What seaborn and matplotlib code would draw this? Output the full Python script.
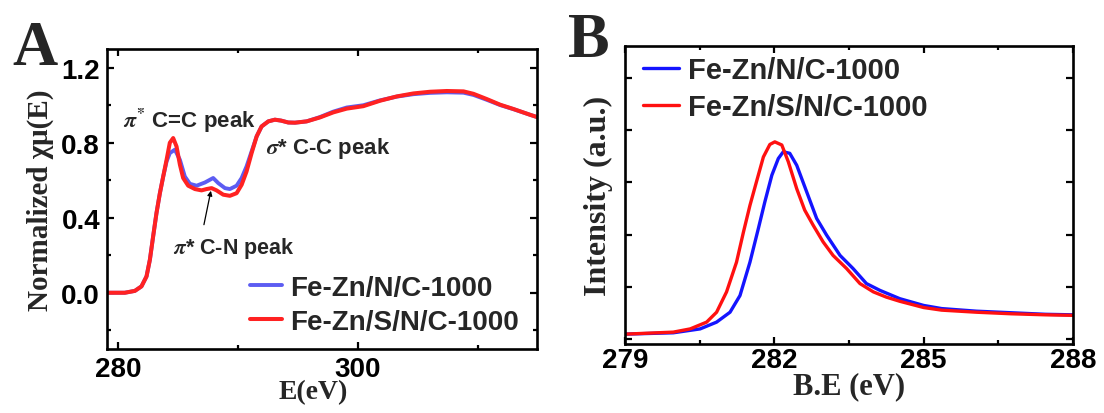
import numpy as np
import pandas as pd
import matplotlib
matplotlib.use("Agg")
import matplotlib.pyplot as plt
import seaborn as sns
from matplotlib.ticker import NullFormatter, FixedLocator

# ---------------- data: panel A (XANES) ----------------
energy_sn = [279.1, 280.58, 281.42, 281.97, 282.39, 282.67, 282.94, 283.22, 283.5, 283.78,
             284.06, 284.33, 284.61, 284.89, 285.17, 285.44, 285.86, 286.42, 286.97, 287.39,
             287.81, 288.22, 288.78, 289.33, 289.89, 290.31, 290.72, 291.14, 291.56, 291.97,
             292.53, 293.08, 293.6, 294.19, 294.75, 295.72, 296.83, 297.94, 299.06, 300.44,
             301.83, 303.22, 304.61, 306.0, 307.39, 308.78, 309.61, 310.72, 311.83, 312.94,
             314.33, 314.9]
mu_fezn_sn = [0.0, 0.0, 0.01, 0.034, 0.087, 0.176, 0.30, 0.425, 0.53, 0.62,
              0.709, 0.80, 0.825, 0.78, 0.683, 0.612, 0.571, 0.553, 0.546, 0.553,
              0.558, 0.546, 0.523, 0.517, 0.531, 0.576, 0.647, 0.745, 0.834, 0.887,
              0.914, 0.923, 0.918, 0.908, 0.907, 0.914, 0.935, 0.962, 0.982, 0.995,
              1.024, 1.047, 1.063, 1.072, 1.076, 1.074, 1.061, 1.033, 1.003, 0.98,
              0.949, 0.937]

energy_n = [279.1, 280.58, 281.42, 281.97, 282.39, 282.67, 282.94, 283.22, 283.5, 283.78,
            284.06, 284.33, 284.75, 285.17, 285.58, 286.0, 286.56, 287.25, 287.94, 288.36,
            288.92, 289.33, 289.89, 290.31, 290.72, 291.14, 291.56, 291.97,
            292.53, 293.08, 293.6, 294.19, 294.75, 295.72, 296.83, 297.94, 299.06, 300.44,
            301.83, 303.22, 304.61, 306.0, 307.39, 308.78, 309.61, 310.72, 311.83, 312.94,
            314.33, 314.9]
mu_fezn_n = [0.0, 0.0, 0.01, 0.034, 0.087, 0.176, 0.30, 0.425, 0.53, 0.62,
             0.70, 0.745, 0.763, 0.709, 0.62, 0.581, 0.571, 0.588, 0.612, 0.585,
             0.558, 0.553, 0.571, 0.612, 0.674, 0.754, 0.834, 0.887,
             0.914, 0.923, 0.918, 0.908, 0.907, 0.914, 0.937, 0.966, 0.988, 1.0,
             1.026, 1.046, 1.059, 1.066, 1.069, 1.067, 1.055, 1.029, 1.001, 0.979,
             0.949, 0.937]

# ---------------- data: panel B (XPS) ----------------
be_n = [279.02, 279.97, 280.51, 280.84, 281.11, 281.31, 281.51, 281.68, 281.81, 281.95,
        282.08, 282.18, 282.31, 282.45, 282.65, 282.85, 283.05, 283.32, 283.58, 283.85,
        284.12, 284.52, 285.0, 285.36, 286.06, 286.76, 287.45, 288.0]
int_n = [0.09, 0.115, 0.19, 0.32, 0.51, 0.83, 1.47, 2.12, 2.63, 3.14,
         3.46, 3.59, 3.56, 3.33, 2.82, 2.31, 1.99, 1.60, 1.35, 1.06,
         0.93, 0.77, 0.64, 0.58, 0.53, 0.50, 0.47, 0.46]
be_sn = [279.02, 279.97, 280.31, 280.64, 280.84, 281.04, 281.24, 281.38, 281.51, 281.64,
         281.78, 281.91, 282.01, 282.15, 282.28, 282.45, 282.61, 282.78, 282.98, 283.18,
         283.45, 283.72, 283.99, 284.25, 284.52, 285.0, 285.36, 286.06, 286.76, 287.45,
         288.0]
int_sn = [0.09, 0.128, 0.19, 0.32, 0.51, 0.90, 1.47, 2.05, 2.56, 3.01,
          3.49, 3.73, 3.78, 3.72, 3.40, 2.88, 2.47, 2.18, 1.86, 1.60,
          1.35, 1.06, 0.90, 0.80, 0.72, 0.60, 0.55, 0.51, 0.48, 0.46,
          0.45]

labels = ["Fe-Zn/N/C-1000", "Fe-Zn/S/N/C-1000"]
colors_a = ["#5c5cf2", "#ff2222"]
colors_b = ["#1414ff", "#ff1010"]

xticks_a = [280, 300]
yticks_a = [0.0, 0.4, 0.8, 1.2]
xticks_b = [279, 282, 285, 288]

# ---------------- style ----------------
sns.set_theme(style="ticks")
plt.rcParams["font.family"] = ["Liberation Sans", "DejaVu Sans"]
plt.rcParams["font.weight"] = "bold"
plt.rcParams["mathtext.fontset"] = "stix"
plt.rcParams["axes.linewidth"] = 1.9
plt.rcParams["axes.edgecolor"] = "black"

fig = plt.figure(figsize=(11.04, 4.14), dpi=100)
W, H = 1104, 414
axA = fig.add_axes([107 / W, (H - 350) / H, 430 / W, 300 / H])
axB = fig.add_axes([625 / W, (H - 345) / H, 448 / W, 298 / H])

serif = ["Liberation Serif", "DejaVu Serif"]


def style_ticks(ax):
    ax.tick_params(which="both", direction="in", top=True, right=True,
                   width=1.6, colors="black", labelsize=20)
    ax.tick_params(which="major", length=5)
    ax.tick_params(which="minor", length=3)
    for lab in ax.get_xticklabels() + ax.get_yticklabels():
        lab.set_fontweight("bold")


# ---- Panel A ----
dfA_n = pd.DataFrame({"E": energy_n, "mu": mu_fezn_n})
dfA_sn = pd.DataFrame({"E": energy_sn, "mu": mu_fezn_sn})
sns.lineplot(data=dfA_n, x="E", y="mu", color=colors_a[0], linewidth=2.8, ax=axA,
             label=labels[0], legend=False)
sns.lineplot(data=dfA_sn, x="E", y="mu", color=colors_a[1], linewidth=2.9, ax=axA,
             label=labels[1], legend=False)
axA.set_xlim(279.1, 314.9)
axA.set_ylim(-0.3, 1.3)
axA.xaxis.set_major_locator(FixedLocator(xticks_a))
axA.xaxis.set_minor_locator(FixedLocator([290, 310]))
axA.yaxis.set_major_locator(FixedLocator(yticks_a))
axA.yaxis.set_minor_locator(FixedLocator([-0.2, 0.2, 0.6, 1.0]))
axA.set_yticklabels([f"{v:.1f}" for v in yticks_a])
axA.set_xticklabels([str(v) for v in xticks_a])
style_ticks(axA)
axA.tick_params(axis="x", pad=5)
axA.tick_params(axis="y", pad=5)
axA.set_xlabel("E(eV)", fontsize=20, fontweight="bold", family=serif, labelpad=0)
axA.set_ylabel("Normalized χμ(E)", fontsize=21, fontweight="bold", family=serif, labelpad=5)
axA.xaxis.set_label_coords(0.479, -0.1)
axA.xaxis.label.set_va("top")

legA = axA.legend(loc="upper left", bbox_to_anchor=(0.333, 0.248), frameon=False,
                  fontsize=20, handlelength=1.15, handletextpad=0.3, labelspacing=0.3,
                  borderpad=0, borderaxespad=0)
for t in legA.get_texts():
    t.set_fontweight("bold")

axA.text(280.42, 0.885, r"$\pi^{*}$ C=C peak", fontsize=16, fontweight="bold")
axA.text(292.33, 0.747, r"$\sigma$* C-C peak", fontsize=16, fontweight="bold")
axA.text(284.58, 0.213, r"$\pi$* C-N peak", fontsize=15.5, fontweight="bold")
axA.annotate("", xy=(287.75, 0.544), xytext=(287.17, 0.363),
             arrowprops=dict(arrowstyle="-|>", color="black", lw=0.9,
                             mutation_scale=7, shrinkA=0, shrinkB=0))

# ---- Panel B ----
dfB_n = pd.DataFrame({"BE": be_n, "I": int_n})
dfB_sn = pd.DataFrame({"BE": be_sn, "I": int_sn})
sns.lineplot(data=dfB_n, x="BE", y="I", color=colors_b[0], linewidth=2.4, ax=axB,
             label=labels[0], legend=False)
sns.lineplot(data=dfB_sn, x="BE", y="I", color=colors_b[1], linewidth=2.4, ax=axB,
             label=labels[1], legend=False)
axB.set_xlim(279, 288)
axB.set_ylim(-0.1, 5.62)
axB.xaxis.set_major_locator(FixedLocator(xticks_b))
axB.xaxis.set_minor_locator(FixedLocator([280.5, 283.5, 286.5]))
axB.set_xticklabels([str(v) for v in xticks_b])
axB.yaxis.set_major_locator(FixedLocator([0, 1, 2, 3, 4, 5]))
axB.yaxis.set_major_formatter(NullFormatter())
style_ticks(axB)
axB.tick_params(axis="x", pad=2)
axB.set_xlabel("B.E (eV)", fontsize=22, fontweight="bold", family=serif, labelpad=0)
axB.xaxis.set_label_coords(0.5, -0.09)
axB.xaxis.label.set_va("top")
axB.set_ylabel("Intensity (a.u.)", fontsize=23, fontweight="bold", family=serif, labelpad=5)

legB = axB.legend(loc="upper left", bbox_to_anchor=(0.04, 0.965), frameon=False,
                  fontsize=21, handlelength=1.25, handletextpad=0.3, labelspacing=0.3,
                  borderpad=0, borderaxespad=0)
for t in legB.get_texts():
    t.set_fontweight("bold")

# panel letters
fig.text(12 / W, 1 - 65 / H, "A", fontsize=45, fontweight="bold", family=serif, va="baseline")
fig.text(568 / W, 1 - 57 / H, "B", fontsize=45, fontweight="bold", family=serif, va="baseline")

fig.savefig("out.png", dpi=100)
